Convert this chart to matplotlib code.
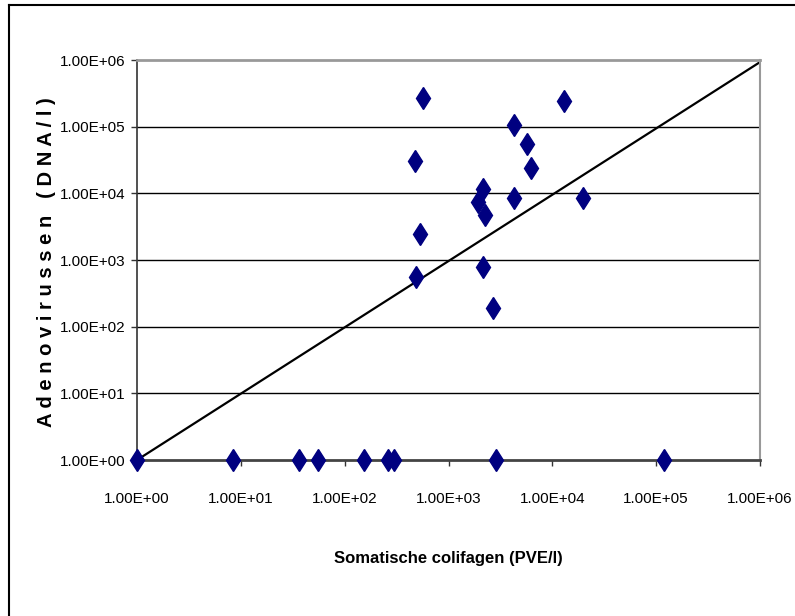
import matplotlib.pyplot as plt
from matplotlib.lines import Line2D
from matplotlib.ticker import FixedLocator, FixedFormatter, NullLocator

plt.rcParams['font.family'] = ['Liberation Sans Narrow', 'Liberation Sans', 'DejaVu Sans']

# somatic coliphages (PVE/l) vs adenovirus (DNA/l)
coli = [1, 8.4, 36.6, 55.5, 154, 261, 301, 2860, 120000,
        570, 12900, 4250, 5670, 471, 6300, 2140, 1945, 4250, 19800,
        2270, 537, 2140, 484, 2690]
adeno = [1, 1, 1, 1, 1, 1, 1, 1, 1,
         266000, 245000, 106000, 55000, 30900, 23700, 11500, 7500, 8420, 8420,
         4730, 2450, 794, 562, 193]

# reference line
line_x = [1, 1e6]
line_y = [1, 9.3e5]

decades = [1, 1e1, 1e2, 1e3, 1e4, 1e5, 1e6]
tick_labels = ['1.00E+00', '1.00E+01', '1.00E+02', '1.00E+03',
               '1.00E+04', '1.00E+05', '1.00E+06']

fig = plt.figure(figsize=(7.95, 6.16), dpi=100)
ax = fig.add_axes([137 / 795, 1 - 460 / 616, 623 / 795, 400 / 616])

ax.set_xscale('log')
ax.set_yscale('log')
ax.set_xlim(1, 1e6)
ax.set_ylim(1, 1e6)

for d in decades[1:-1]:
    ax.axhline(d, color='black', lw=1.0, zorder=1)

ax.plot(line_x, line_y, color='black', lw=1.6, zorder=2)
ax.plot(coli, adeno, linestyle='none', marker='d', markersize=11.5,
        color='#000080', clip_on=False, zorder=3)

for axis in (ax.xaxis, ax.yaxis):
    axis.set_major_locator(FixedLocator(decades))
    axis.set_major_formatter(FixedFormatter(tick_labels))
    axis.set_minor_locator(NullLocator())

ax.tick_params(axis='both', direction='out', length=4, width=1, colors='#333333',
               labelcolor='black', labelsize=11)
ax.tick_params(axis='x', pad=19)
ax.tick_params(axis='y', pad=4)

ax.spines['left'].set_color('#333333')
ax.spines['left'].set_linewidth(1.2)
ax.spines['bottom'].set_color('#444444')
ax.spines['bottom'].set_linewidth(2)
ax.spines['top'].set_color('#999999')
ax.spines['top'].set_linewidth(2)
ax.spines['right'].set_color('#999999')
ax.spines['right'].set_linewidth(1.5)

fig.text(448 / 795, 1 - 558 / 616, 'Somatische colifagen (PVE/l)',
         ha='center', va='center', fontsize=12, fontweight='bold')
fig.text(47 / 795, 1 - 262 / 616, 'A d e n o v i r u s s e n   ( D N A / l )',
         rotation=90, ha='center', va='center', fontsize=14.5, fontweight='bold')

# outer frame (left and top edges only)
fig.add_artist(Line2D([9 / 795, 9 / 795], [0, 1 - 5 / 616], color='black', lw=1.5))
fig.add_artist(Line2D([9 / 795, 1], [1 - 5 / 616, 1 - 5 / 616], color='black', lw=1.5))

fig.savefig('out.png', dpi=100)
